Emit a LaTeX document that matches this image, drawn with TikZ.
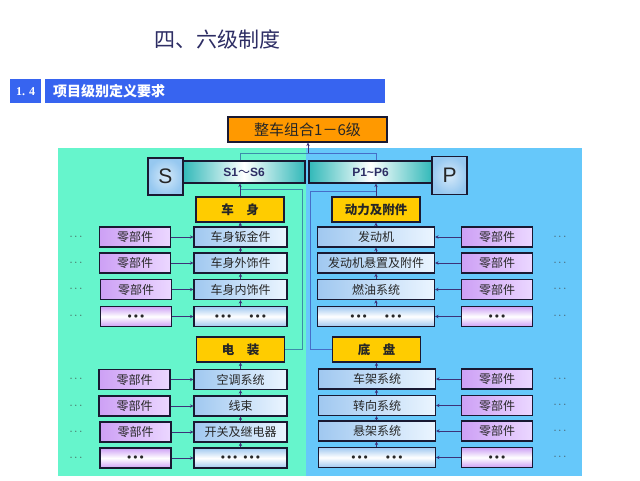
\documentclass[tikz,border=0pt]{standalone}
\usepackage{fontspec}
\setmainfont{Noto Sans CJK SC}
\newfontfamily\latinsans{Liberation Sans}
\newfontfamily\latinserif{Liberation Serif}
\usetikzlibrary{arrows.meta}
\definecolor{tealbg}{RGB}{102,245,204}
\definecolor{bluebg}{RGB}{102,200,250}
\definecolor{hdrblue}{RGB}{55,100,240}
\definecolor{orangeA}{RGB}{255,153,0}
\definecolor{goldA}{RGB}{255,204,0}
\definecolor{purpA}{RGB}{205,160,245}
\definecolor{purpB}{RGB}{235,215,255}
\definecolor{sysA}{RGB}{160,200,240}
\definecolor{sysB}{RGB}{235,245,255}
\definecolor{tealD}{RGB}{50,185,185}
\definecolor{sboxC}{RGB}{150,200,240}
\definecolor{navyT}{RGB}{45,45,100}
\definecolor{arrC}{RGB}{60,50,120}
\definecolor{connL}{RGB}{60,140,170}
\definecolor{connR}{RGB}{70,110,200}
\definecolor{borderC}{RGB}{25,25,50}
\newcommand{\mybd}{{\fontsize{8}{8}\selectfont$\bullet\bullet\bullet$}}
\begin{document}
\begin{tikzpicture}[x=1pt,y=-1pt,
  box/.style={draw=borderC, line width=1.1pt, minimum height=20pt, inner sep=0pt,
    font=\fontsize{12}{12}\selectfont, text=black!85},
  part/.style={box, minimum width=71pt, left color=purpA, right color=purpB},
  partdots/.style={box, minimum width=71pt, top color=purpA, bottom color=purpA, middle color=white},
  sysl/.style={box, minimum width=93pt, left color=sysA, right color=sysB},
  sysr/.style={box, minimum width=117pt, left color=sysA, right color=sysB},
  sysdots/.style={box, top color=sysA, bottom color=sysA, middle color=white},
  head/.style={box, fill=goldA, minimum width=88pt, minimum height=25pt,
    font=\fontsize{12.5}{13}\selectfont\bfseries},
  bar/.style={box, minimum width=122pt, minimum height=22pt, left color=tealD, right color=tealD,
    middle color=white, font=\latinsans\fontsize{12}{12}\selectfont\bfseries, text=navyT},
  lbox/.style={box, minimum width=35pt, minimum height=37pt, inner color=sboxC!40, outer color=sboxC,
    font=\latinsans\fontsize{21}{21}\selectfont, text=black!85},
  dotsn/.style={inner sep=0pt, text=black!75, font=\fontsize{11}{11}\selectfont},
  arr/.style={draw=arrC, line width=0.7pt, -{Stealth[length=3.5pt,width=3.5pt]}},
  connl/.style={draw=connL, line width=0.8pt},
  connr/.style={draw=connR, line width=0.8pt}]
\useasboundingbox (0,0) rectangle (640,480);
\fill[white] (0,0) rectangle (640,480);
% title
\node[text=navyT, font=\fontsize{21}{21}\selectfont, inner sep=0pt] (title) at (217,39) {四、六级制度};
% header
\node[fill=hdrblue, minimum width=31pt, minimum height=24pt, inner sep=0pt, anchor=north west,
  text=white, font=\latinserif\fontsize{12}{12}\selectfont\bfseries] (num) at (10,79) {1. 4};
\node[fill=hdrblue, minimum height=24pt, inner xsep=8pt, inner ysep=0pt, text width=324pt, align=left,
  anchor=north west, text=white, font=\fontsize{14}{14}\selectfont\bfseries] (hdr) at (45,79) {项目级别定义要求};
% panels
\fill[tealbg] (58,148) rectangle (306,476);
\fill[bluebg] (306,148) rectangle (582,476);
% top
\node[box, fill=orangeA, minimum width=159pt, minimum height=25pt, font=\fontsize{15}{15}\selectfont] (top) at (307.5,129.5) {整车组合1－6级};
\node[bar] (s16) at (244,172) {S1{\rmfamily\mdseries ～}S6};
\node[bar, minimum width=123pt] (p16) at (370.5,172) {P1\textasciitilde P6};
\node[lbox] (sb) at (165.5,176.5) {S};
\node[lbox, minimum height=38pt] (pb) at (449.5,175.5) {P};
% heads
\node[head] (che) at (240,209.5) {车　身};
\node[head] (dl) at (376,209.5) {动力及附件};
\node[head] (dz) at (240.5,349.5) {电　装};
\node[head] (dp) at (376.5,349.5) {底　盘};
% left upper
\node[part] (lp1) at (135,237) {零部件};
\node[part] (lp2) at (135,263) {零部件};
\node[part] (lp3) at (136,289.5) {零部件};
\node[partdots] (lp4) at (136,316.5) {\mybd};
\node[sysl] (ls1) at (240.5,237) {车身钣金件};
\node[sysl] (ls2) at (240.5,263) {车身外饰件};
\node[sysl] (ls3) at (240.5,289.5) {车身内饰件};
\node[sysl, sysdots] (ls4) at (240.5,316.5) {\mybd\hspace{18pt}\mybd};
\node[dotsn] (ld1) at (76,237) {$\cdots$};
\node[dotsn] (ld2) at (76,263) {$\cdots$};
\node[dotsn] (ld3) at (76,289.5) {$\cdots$};
\node[dotsn] (ld4) at (76,316.5) {$\cdots$};
% left lower
\node[part] (lq1) at (134.5,379.5) {零部件};
\node[part] (lq2) at (134.5,406) {零部件};
\node[part] (lq3) at (135.5,432) {零部件};
\node[partdots] (lq4) at (135.5,458) {\mybd};
\node[sysl] (lt1) at (240.5,379.5) {空调系统};
\node[sysl] (lt2) at (240.5,406) {线束};
\node[sysl] (lt3) at (240.5,432) {开关及继电器};
\node[sysl, sysdots] (lt4) at (240.5,458) {\mybd\hspace{6pt}\mybd};
\node[dotsn] (le1) at (76,379.5) {$\cdots$};
\node[dotsn] (le2) at (76,406) {$\cdots$};
\node[dotsn] (le3) at (76,432) {$\cdots$};
\node[dotsn] (le4) at (76,458) {$\cdots$};
% right upper
\node[sysr] (rs1) at (376,237) {发动机};
\node[sysr] (rs2) at (376,263) {发动机悬置及附件};
\node[sysr] (rs3) at (376,289.5) {燃油系统};
\node[sysr, sysdots] (rs4) at (376,316.5) {\mybd\hspace{18pt}\mybd};
\node[part] (rp1) at (497,237) {零部件};
\node[part] (rp2) at (497,263) {零部件};
\node[part] (rp3) at (497,289.5) {零部件};
\node[partdots] (rp4) at (497,316.5) {\mybd};
\node[dotsn] (rd1) at (560,237) {$\cdots$};
\node[dotsn] (rd2) at (560,263) {$\cdots$};
\node[dotsn] (rd3) at (560,289.5) {$\cdots$};
\node[dotsn] (rd4) at (560,316.5) {$\cdots$};
% right lower
\node[sysr] (rt1) at (377,379) {车架系统};
\node[sysr] (rt2) at (377,405.5) {转向系统};
\node[sysr] (rt3) at (377,431) {悬架系统};
\node[sysr, sysdots] (rt4) at (377,457.5) {\mybd\hspace{18pt}\mybd};
\node[part] (rq1) at (497,379) {零部件};
\node[part] (rq2) at (497,405.5) {零部件};
\node[part] (rq3) at (497,431) {零部件};
\node[partdots] (rq4) at (497,457.5) {\mybd};
\node[dotsn] (re1) at (560,379) {$\cdots$};
\node[dotsn] (re2) at (560,405.5) {$\cdots$};
\node[dotsn] (re3) at (560,431) {$\cdots$};
\node[dotsn] (re4) at (560,457.5) {$\cdots$};
% top connectors
\coordinate (jt) at (308,153);
\draw[connl] (s16.north -| che.north) |- (jt);
\draw[connr] (jt) -| (p16.north -| dl.north);
\draw[arr] (jt) -- (top.south -| jt);
\coordinate (eL) at (302,189);
\coordinate (eR) at (310,191);
\draw[connl] (dz.east) -| (eL) -- (eL -| che.north);
\draw[connr] (dp.west) -| (eR) -- (eR -| dl.north);
\draw[arr] (che.north) -- (s16.south -| che.north);
\draw[arr] (dl.north) -- (p16.south -| dl.north);
% vertical chains
\draw[arr] (ls1.north) -- (che.south);
\draw[arr] (ls2.north) -- (ls1.south);
\draw[arr] (ls3.north) -- (ls2.south);
\draw[arr] (ls4.north) -- (ls3.south);
\draw[arr] (lt1.north) -- (dz.south);
\draw[arr] (lt2.north) -- (lt1.south);
\draw[arr] (lt3.north) -- (lt2.south);
\draw[arr] (lt4.north) -- (lt3.south);
\draw[arr] (rs1.north) -- (dl.south);
\draw[arr] (rs2.north) -- (rs1.south);
\draw[arr] (rs3.north) -- (rs2.south);
\draw[arr] (rs4.north) -- (rs3.south);
\draw[arr] (rt1.north -| dp.south) -- (dp.south);
\draw[arr] (rt2.north -| dp.south) -- (rt1.south -| dp.south);
\draw[arr] (rt3.north -| dp.south) -- (rt2.south -| dp.south);
\draw[arr] (rt4.north -| dp.south) -- (rt3.south -| dp.south);
% horizontal arrows
\draw[arr] (lp1.east) -- (ls1.west);
\draw[arr] (lp2.east) -- (ls2.west);
\draw[arr] (lp3.east) -- (ls3.west);
\draw[arr] (lp4.east) -- (ls4.west);
\draw[arr] (lq1.east) -- (lt1.west);
\draw[arr] (lq2.east) -- (lt2.west);
\draw[arr] (lq3.east) -- (lt3.west);
\draw[arr] (lq4.east) -- (lt4.west);
\draw[arr] (rp1.west) -- (rs1.east);
\draw[arr] (rp2.west) -- (rs2.east);
\draw[arr] (rp3.west) -- (rs3.east);
\draw[arr] (rp4.west) -- (rs4.east);
\draw[arr] (rq1.west) -- (rt1.east);
\draw[arr] (rq2.west) -- (rt2.east);
\draw[arr] (rq3.west) -- (rt3.east);
\draw[arr] (rq4.west) -- (rt4.east);
\end{tikzpicture}
\end{document}
